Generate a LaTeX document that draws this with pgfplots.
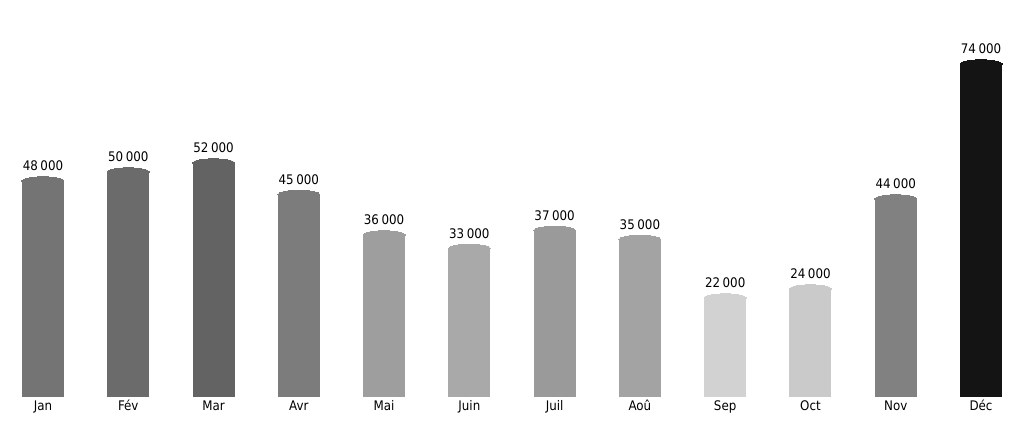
\documentclass[border=0pt]{standalone}
\usepackage{pgfplots}
\pgfplotsset{compat=1.18}
\usepackage{fontspec}
\setmainfont{DejaVu Sans Condensed}
\definecolor{cJan}{HTML}{747474}
\definecolor{cFev}{HTML}{6B6B6B}
\definecolor{cMar}{HTML}{636363}
\definecolor{cAvr}{HTML}{7C7C7C}
\definecolor{cMai}{HTML}{9E9E9E}
\definecolor{cJuin}{HTML}{A9A9A9}
\definecolor{cJuil}{HTML}{9A9A9A}
\definecolor{cAou}{HTML}{A3A3A3}
\definecolor{cSep}{HTML}{D2D2D2}
\definecolor{cOct}{HTML}{CACACA}
\definecolor{cNov}{HTML}{818181}
\definecolor{cDec}{HTML}{141414}
\pgfplotsset{
  mybar/.style={ybar, bar width=42pt, bar shift=0pt, draw=none, fill=#1,
    mark=*, mark size=21pt, mark options={draw=#1, fill=#1, line width=0pt, yscale=0.2},
    nodes near coords, every node near coord/.append style={anchor=south, inner sep=0pt, yshift=10pt, text=black, font=\fontsize{13.2}{15}\selectfont}},
}
\begin{document}
\begin{tikzpicture}
\useasboundingbox (0,-25pt) rectangle (1024pt,397pt);
\begin{axis}[
  scale only axis, width=1024pt, height=397pt,
  xmin=-0.504, xmax=11.504, ymin=0, ymax=88222,
  axis line style={draw=none}, tick style={draw=none},
  ytick=\empty,
  xtick={0,1,2,3,4,5,6,7,8,9,10,11},
  xticklabels={Jan,Fév,Mar,Avr,Mai,Juin,Juil,Aoû,Sep,Oct,Nov,Déc},
  xticklabel style={anchor=base, yshift=-13.7pt, font=\fontsize{13.2}{15}\selectfont},
  /pgf/number format/.cd, assume math mode=true, 1000 sep={\kern2.6pt},
]
\addplot[mybar=cJan] coordinates {(0,48000)};
\addplot[mybar=cFev] coordinates {(1,50000)};
\addplot[mybar=cMar] coordinates {(2,52000)};
\addplot[mybar=cAvr] coordinates {(3,45000)};
\addplot[mybar=cMai] coordinates {(4,36000)};
\addplot[mybar=cJuin] coordinates {(5,33000)};
\addplot[mybar=cJuil] coordinates {(6,37000)};
\addplot[mybar=cAou] coordinates {(7,35000)};
\addplot[mybar=cSep] coordinates {(8,22000)};
\addplot[mybar=cOct] coordinates {(9,24000)};
\addplot[mybar=cNov] coordinates {(10,44000)};
\addplot[mybar=cDec] coordinates {(11,74000)};
\end{axis}
\end{tikzpicture}
\end{document}
